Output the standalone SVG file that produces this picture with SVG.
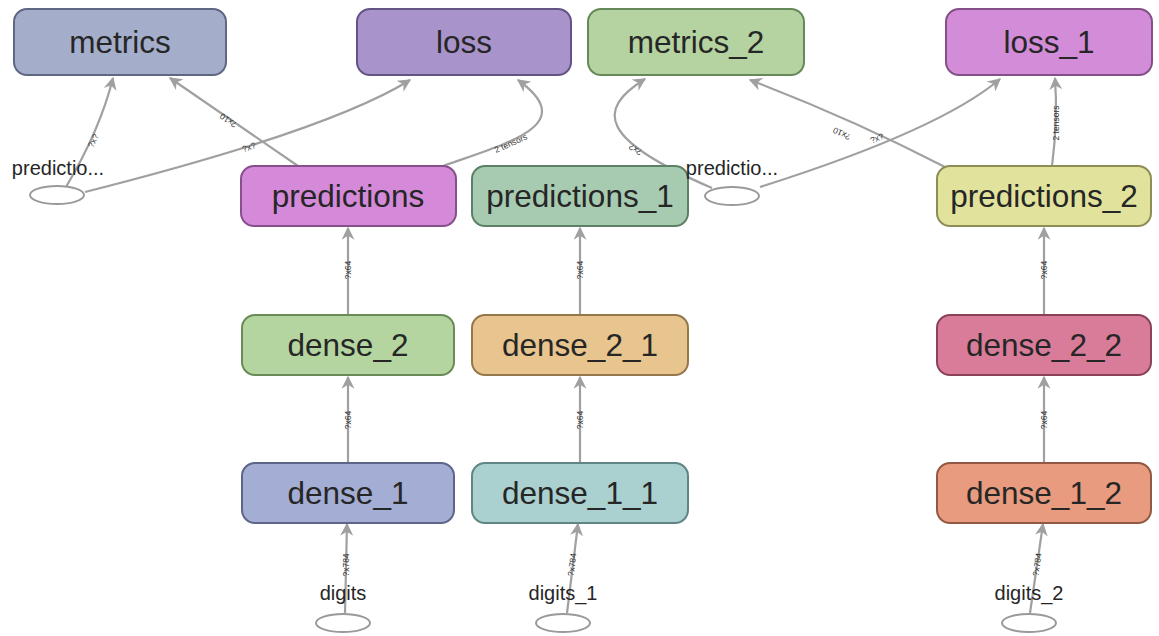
<svg xmlns="http://www.w3.org/2000/svg" width="1159" height="636" viewBox="0 0 1159 636">
<style>
.node rect{stroke-width:2}
.node text{font-family:"Liberation Sans",Arial,sans-serif;font-size:31.5px;fill:#262626;text-anchor:middle}
.edge{fill:none;stroke:#a0a0a0;stroke-width:2.2}
.el{font-family:"Liberation Sans",Arial,sans-serif;font-size:8.5px;fill:#333;text-anchor:middle}
.op ellipse{fill:#fff;stroke:#999;stroke-width:2}
.op text{font-family:"Liberation Sans",Arial,sans-serif;font-size:20px;fill:#262626;text-anchor:middle}
</style>
<defs>
<marker id="arr" viewBox="0 0 10 10" refX="9" refY="5" markerWidth="13" markerHeight="13" markerUnits="userSpaceOnUse" orient="auto">
<path d="M0,0 L10,5 L0,10 L3,5 z" fill="#a0a0a0"/>
</marker>
</defs>
<rect width="1159" height="636" fill="#fff"/>

<g id="connectors">
<path class="edge" d="M345,613 L347,524" marker-end="url(#arr)"/>
<text class="el" transform="translate(349,565) rotate(-90)">?x784</text>
<path class="edge" d="M348,463 L348,377" marker-end="url(#arr)"/>
<text class="el" transform="translate(351,420) rotate(-90)">?x64</text>
<path class="edge" d="M348,315 L348,228" marker-end="url(#arr)"/>
<text class="el" transform="translate(351,270) rotate(-90)">?x64</text>
<path class="edge" d="M567,613 L578,524" marker-end="url(#arr)"/>
<text class="el" transform="translate(575,565) rotate(-83)">?x784</text>
<path class="edge" d="M580,463 L580,377" marker-end="url(#arr)"/>
<text class="el" transform="translate(583,420) rotate(-90)">?x64</text>
<path class="edge" d="M580,315 L580,228" marker-end="url(#arr)"/>
<text class="el" transform="translate(583,270) rotate(-90)">?x64</text>
<path class="edge" d="M1030,613 L1043,524" marker-end="url(#arr)"/>
<text class="el" transform="translate(1040,565) rotate(-82)">?x784</text>
<path class="edge" d="M1044,463 L1044,377" marker-end="url(#arr)"/>
<text class="el" transform="translate(1047,420) rotate(-90)">?x64</text>
<path class="edge" d="M1044,315 L1044,228" marker-end="url(#arr)"/>
<text class="el" transform="translate(1047,270) rotate(-90)">?x64</text>
<path class="edge" d="M66,187 Q100,130 113,78" marker-end="url(#arr)"/>
<text class="el" transform="translate(96,142) rotate(-65)">?x?</text>
<path class="edge" d="M298,166 L170,78" marker-end="url(#arr)"/>
<text class="el" transform="translate(230,118) rotate(214.5)">?x10</text>
<path class="edge" d="M85,192 Q330,130 410,80" marker-end="url(#arr)"/>
<text class="el" transform="translate(250,150) rotate(-20)">?x?</text>
<path class="edge" d="M443,166 C510,142 580,125 518,80" marker-end="url(#arr)"/>
<text class="el" transform="translate(512,146) rotate(-24)">2 tensors</text>
<path class="edge" d="M712,188 C600,140 595,110 645,79" marker-end="url(#arr)"/>
<text class="el" transform="translate(637,147) rotate(212)">?x?</text>
<path class="edge" d="M947,168 Q850,118 750,80" marker-end="url(#arr)"/>
<text class="el" transform="translate(843,131) rotate(205)">?x10</text>
<path class="edge" d="M760,187 Q940,130 1000,79" marker-end="url(#arr)"/>
<text class="el" transform="translate(878,141) rotate(-22)">?x?</text>
<path class="edge" d="M1052,166 Q1058,120 1055,78" marker-end="url(#arr)"/>
<text class="el" transform="translate(1059,123) rotate(-90)">2 tensors</text>
</g>

<g id="metrics" class="node"><rect x="14" y="9" width="212" height="66" rx="13" fill="#a4aeca" stroke="#5e6883"/><text x="120" y="53">metrics</text></g>
<g id="loss" class="node"><rect x="357" y="9" width="214" height="66" rx="13" fill="#a894ca" stroke="#625585"/><text x="464" y="53">loss</text></g>
<g id="metrics_2" class="node"><rect x="588" y="9" width="216" height="66" rx="13" fill="#b4d3a0" stroke="#678858"/><text x="696" y="53">metrics_2</text></g>
<g id="loss_1" class="node"><rect x="946" y="9" width="206" height="66" rx="13" fill="#d28cd8" stroke="#835088"/><text x="1049" y="53">loss_1</text></g>

<g id="predictions" class="node"><rect x="241" y="166" width="215" height="60" rx="13" fill="#d58ad9" stroke="#86518a"/><text x="348" y="207">predictions</text></g>
<g id="predictions_1" class="node"><rect x="472" y="166" width="216" height="60" rx="13" fill="#a7cbb1" stroke="#5d8167"/><text x="580" y="207">predictions_1</text></g>
<g id="predictions_2" class="node"><rect x="937" y="166" width="214" height="60" rx="13" fill="#e1e39c" stroke="#8d8e55"/><text x="1044" y="207">predictions_2</text></g>

<g id="dense_2" class="node"><rect x="242" y="315" width="212" height="60" rx="13" fill="#b4d59f" stroke="#6a8a57"/><text x="348" y="356">dense_2</text></g>
<g id="dense_2_1" class="node"><rect x="472" y="315" width="216" height="60" rx="13" fill="#e8c48e" stroke="#94774b"/><text x="580" y="356">dense_2_1</text></g>
<g id="dense_2_2" class="node"><rect x="937" y="315" width="214" height="60" rx="13" fill="#d97c9a" stroke="#8b4259"/><text x="1044" y="356">dense_2_2</text></g>

<g id="dense_1" class="node"><rect x="242" y="463" width="212" height="60" rx="13" fill="#a4add3" stroke="#5d6589"/><text x="348" y="504">dense_1</text></g>
<g id="dense_1_1" class="node"><rect x="472" y="463" width="216" height="60" rx="13" fill="#aad0cf" stroke="#5f8584"/><text x="580" y="504">dense_1_1</text></g>
<g id="dense_1_2" class="node"><rect x="937" y="463" width="214" height="60" rx="13" fill="#e89b7e" stroke="#935844"/><text x="1044" y="504">dense_1_2</text></g>

<g id="predictio_a" class="op"><ellipse cx="57" cy="195" rx="27" ry="9"/><text x="58" y="175">predictio...</text></g>
<g id="predictio_b" class="op"><ellipse cx="732" cy="196" rx="27" ry="9"/><text x="732" y="175">predictio...</text></g>
<g id="digits" class="op"><ellipse cx="343" cy="623" rx="27" ry="9"/><text x="343" y="600">digits</text></g>
<g id="digits_1" class="op"><ellipse cx="563" cy="623" rx="27" ry="9"/><text x="563" y="600">digits_1</text></g>
<g id="digits_2" class="op"><ellipse cx="1029" cy="623" rx="27" ry="9"/><text x="1029" y="600">digits_2</text></g>
</svg>
